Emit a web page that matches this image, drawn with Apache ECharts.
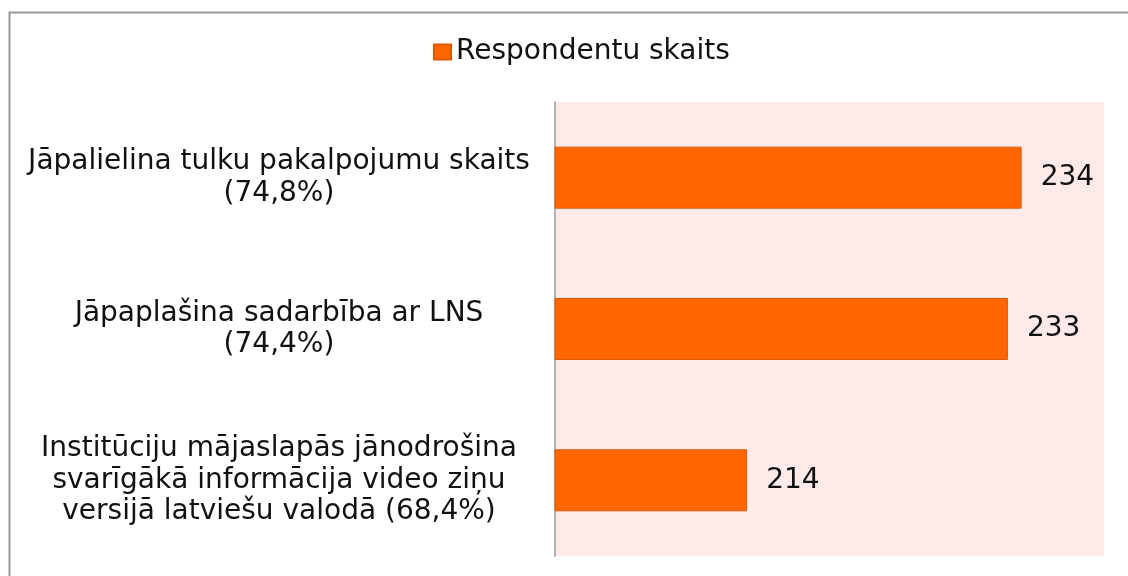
<!DOCTYPE html>
<html style="height: 100%">
<head>
    <meta charset="utf-8">
    <script src="https://cdn.jsdelivr.net/npm/echarts@6/dist/echarts.min.js"></script>
</head>
<body style="height: 100%; margin: 0">
    <div id="main" style="width:1128px;height:576px;"></div>
    <script type="text/javascript">
    // dati
    var categories = [
        'Jāpalielina tulku pakalpojumu skaits\n(74,8%)',
        'Jāpaplašina sadarbība ar LNS\n(74,4%)',
        'Institūciju mājaslapās jānodrošina\nsvarīgākā informācija video ziņu\nversijā latviešu valodā (68,4%)'
    ];
    var values = [234, 233, 214];
    var seriesName = 'Respondentu skaits';

    var myChart = echarts.init(document.getElementById('main'));

    var option = {
        animation: false,
        textStyle: { fontFamily: 'DejaVu Sans, sans-serif' },
        graphic: [
            {
                type: 'rect',
                shape: { x: 9.5, y: 12.5, width: 1140, height: 600 },
                style: { fill: 'none', stroke: '#999', lineWidth: 2 }
            }
        ],
        legend: {
            data: [seriesName],
            left: 428,
            top: 33,
            itemWidth: 17,
            itemHeight: 15,
            itemGap: 6,
            icon: 'rect',
            textStyle: { fontSize: 28, color: '#111', fontFamily: 'DejaVu Sans' }
        },
        grid: {
            left: 555,
            right: 24,
            top: 102,
            bottom: 20,
            show: true,
            backgroundColor: '#feeae8',
            borderWidth: 0
        },
        xAxis: {
            type: 'value',
            min: 200,
            max: 240,
            show: false,
            splitLine: { show: false }
        },
        yAxis: {
            type: 'category',
            inverse: true,
            data: categories,
            axisLine: { show: true, lineStyle: { color: '#999', width: 1.5 } },
            axisTick: { show: false },
            axisLabel: {
                align: 'center',
                margin: 276,
                fontSize: 28,
                lineHeight: 31.5,
                color: '#111',
                fontFamily: 'DejaVu Sans'
            }
        },
        series: [
            {
                name: seriesName,
                type: 'bar',
                data: values,
                barWidth: 62,
                itemStyle: { color: '#ff6600', borderColor: '#d95a0a', borderWidth: 1 },
                label: {
                    show: true,
                    position: 'right',
                    distance: 19,
                    fontSize: 28,
                    color: '#111',
                    fontFamily: 'DejaVu Sans'
                }
            }
        ]
    };
    myChart.setOption(option);
    </script>
</body>
</html>
